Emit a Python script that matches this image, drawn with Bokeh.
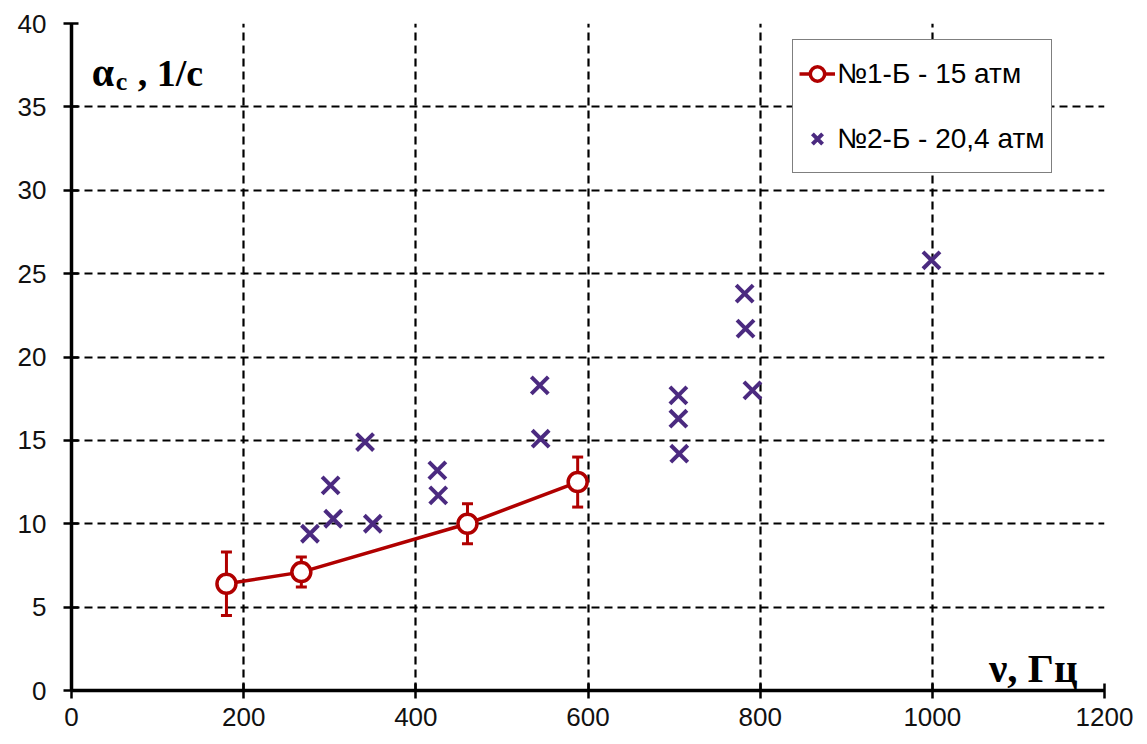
from bokeh.plotting import figure
from bokeh.models import (ColumnDataSource, Whisker, TeeHead, Label, Legend, LegendItem,
                          FixedTicker, Range1d)
from bokeh.embed import file_html
from bokeh.resources import INLINE

# Series 1: №1-Б - 15 атм (with error bars)
s1_freq = [180, 267, 460, 588]
s1_alpha = [6.4, 7.1, 10.0, 12.5]
s1_err = [1.9, 0.9, 1.2, 1.5]

# Series 2: №2-Б - 20,4 атм
s2_freq = [277, 301, 304, 341, 350, 425, 426, 544, 545, 705, 705, 706, 782, 783, 791, 999]
s2_alpha = [9.4, 12.3, 10.3, 14.9, 10.0, 13.2, 11.7, 18.3, 15.1, 17.7, 16.3, 14.2, 23.8, 21.7, 18.0, 25.8]

x_ticks = [0, 200, 400, 600, 800, 1000, 1200]
y_ticks = [0, 5, 10, 15, 20, 25, 30, 35, 40]

label_s1 = "№1-Б - 15 атм"
label_s2 = "№2-Б - 20,4 атм"
y_title_main = "α"
y_title_sub = "c"
y_title_rest = ",  1/c"
x_title = "ν, Гц"

RED = "#b00000"
PURPLE = "#4b2a80"

p = figure(width=1147, height=744, output_backend="svg", toolbar_location=None,
           x_range=Range1d(0, 1200), y_range=Range1d(0, 40),
           min_border_left=71, min_border_right=43, min_border_top=23, min_border_bottom=54)
p.outline_line_color = None
p.background_fill_color = "white"
p.border_fill_color = "white"

for ax, ticks in ((p.xaxis, x_ticks), (p.yaxis, y_ticks)):
    ax.ticker = FixedTicker(ticks=ticks)
    ax.axis_line_width = 3.5
    ax.axis_line_color = "black"
    ax.major_tick_line_width = 2.5
    ax.major_tick_line_color = "black"
    ax.major_tick_out = 8
    ax.major_tick_in = 7
    ax.minor_tick_line_color = None
    ax.major_label_text_font = "Liberation Sans"
    ax.major_label_text_font_size = "26px"
    ax.major_label_text_color = "#111111"
p.yaxis.major_label_standoff = 17
p.xaxis.major_label_standoff = 9

for g in (p.xgrid, p.ygrid):
    g.grid_line_color = "black"
    g.grid_line_width = 2.2
    g.grid_line_dash = "8 5"
p.xgrid.ticker = FixedTicker(ticks=x_ticks)
p.ygrid.ticker = FixedTicker(ticks=y_ticks)

src1 = ColumnDataSource(dict(x=s1_freq, y=s1_alpha,
                             lo=[a - e for a, e in zip(s1_alpha, s1_err)],
                             hi=[a + e for a, e in zip(s1_alpha, s1_err)]))
src2 = ColumnDataSource(dict(x=s2_freq, y=s2_alpha))

wh = Whisker(source=src1, base="x", upper="hi", lower="lo", dimension="height",
             line_color=RED, line_width=3,
             upper_head=TeeHead(size=11, line_color=RED, line_width=3),
             lower_head=TeeHead(size=11, line_color=RED, line_width=3),
             level="underlay")
p.add_layout(wh)

r_line = p.line("x", "y", source=src1, line_color=RED, line_width=3.5)
r_circ = p.scatter("x", "y", source=src1, marker="circle", size=19,
                   fill_color="white", line_color=RED, line_width=3.5)
r_x = p.scatter("x", "y", source=src2, marker="x", size=24,
                line_color=PURPLE, line_width=4)

legend = Legend(items=[LegendItem(label=label_s1, renderers=[r_line, r_circ]),
                       LegendItem(label=label_s2, renderers=[r_x])],
                location=(721, 517), orientation="vertical")
legend.label_text_font = "Liberation Sans"
legend.label_text_font_size = "28px"
legend.label_text_color = "black"
legend.glyph_width = 36
legend.glyph_height = 55
legend.label_height = 55
legend.spacing = 10
legend.padding = 6
legend.label_standoff = 2
legend.border_line_color = "black"
legend.border_line_width = 1.2
legend.background_fill_color = "white"
legend.background_fill_alpha = 1
legend.margin = 0
p.add_layout(legend)

serif = "Liberation Serif"
p.add_layout(Label(x=23.5, y=37.06, text=y_title_main, text_font=serif, text_font_style="bold",
                   text_font_size="40px", text_color="black", text_baseline="alphabetic"))
p.add_layout(Label(x=51.5, y=36.5, text=y_title_sub, text_font=serif, text_font_style="bold",
                   text_font_size="26px", text_color="black", text_baseline="alphabetic"))
p.add_layout(Label(x=77.0, y=37.06, text=y_title_rest, text_font=serif, text_font_style="bold",
                   text_font_size="38px", text_color="black", text_baseline="alphabetic"))
p.add_layout(Label(x=1168.7, y=1.32, text=x_title, text_font=serif, text_font_style="bold",
                   text_font_size="41px", text_color="black", text_baseline="alphabetic",
                   text_align="right"))

open("out.html", "w").write(file_html(p, INLINE))
